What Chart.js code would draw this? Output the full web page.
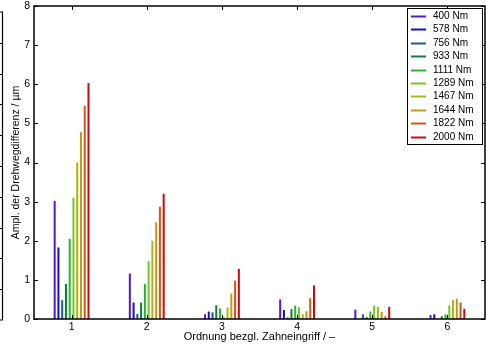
<!DOCTYPE html>
<html>
<head>
<meta charset="utf-8">
<script src="https://cdn.jsdelivr.net/npm/chart.js@4/dist/chart.umd.min.js"></script>
<style>
  html, body { margin: 0; padding: 0; background: #fff; overflow: hidden; }
  canvas { display: block; }
</style>
</head>
<body>
<canvas id="c" width="486" height="349"></canvas>
<script>
// Gear-mesh orders on the x axis
const orders = ['1', '2', '3', '4', '5', '6'];
// Load levels (one series each)
const torques = ['400 Nm', '578 Nm', '756 Nm', '933 Nm', '1111 Nm', '1289 Nm', '1467 Nm', '1644 Nm', '1822 Nm', '2000 Nm'];
// Amplitude of the transmission error per order, µm
const amp400  = [3.02, 1.16, 0.12, 0.50, 0.24, 0.10];
const amp578  = [1.83, 0.42, 0.19, 0.23, 0.00, 0.12];
const amp756  = [0.48, 0.13, 0.17, 0.04, 0.12, 0.00];
const amp933  = [0.90, 0.42, 0.35, 0.25, 0.05, 0.07];
const amp1111 = [2.05, 0.90, 0.27, 0.34, 0.19, 0.12];
const amp1289 = [3.10, 1.48, 0.05, 0.30, 0.34, 0.35];
const amp1467 = [4.00, 2.00, 0.30, 0.12, 0.31, 0.49];
const amp1644 = [4.78, 2.47, 0.65, 0.20, 0.18, 0.52];
const amp1822 = [5.45, 2.87, 0.98, 0.53, 0.07, 0.42];
const amp2000 = [6.03, 3.20, 1.28, 0.86, 0.31, 0.26];
const yTicks = [0, 1, 2, 3, 4, 5, 6, 7, 8];

const seriesValues = [amp400, amp578, amp756, amp933, amp1111, amp1289, amp1467, amp1644, amp1822, amp2000];
const seriesColors = ['#5a18c8', '#1414b8', '#1f5c86', '#0b7d3c', '#2cb42c', '#78c432', '#a6b80c', '#c8961e', '#c85c16', '#c80c0c'];

const FONT = '"Liberation Sans", Arial, Helvetica, sans-serif';

const datasets = torques.map((label, i) => ({
  label,
  data: seriesValues[i],
  backgroundColor: seriesColors[i],
  borderWidth: 0,
  categoryPercentage: 0.5,
  barPercentage: 0.54
}));

// Box around the plot area with inward tick marks on all four sides
const framePlugin = {
  id: 'frame',
  afterDatasetsDraw(chart) {
    const { ctx, chartArea: a, scales: { x, y } } = chart;
    ctx.save();
    ctx.strokeStyle = '#000';
    ctx.lineWidth = 1;
    const t = 4;
    ctx.beginPath();
    x.ticks.forEach((_, i) => {
      const px = Math.round(x.getPixelForTick(i)) + 0.5;
      ctx.moveTo(px, a.top); ctx.lineTo(px, a.top + t);
      ctx.moveTo(px, a.bottom); ctx.lineTo(px, a.bottom - t);
    });
    y.ticks.forEach(tk => {
      const py = Math.round(y.getPixelForValue(tk.value)) + 0.5;
      ctx.moveTo(a.left, py); ctx.lineTo(a.left + t, py);
      ctx.moveTo(a.right, py); ctx.lineTo(a.right - t, py);
    });
    ctx.stroke();
    ctx.lineWidth = 1.5;
    ctx.strokeRect(a.left, a.top, a.right - a.left, a.bottom - a.top);
    ctx.restore();
  }
};

// Legend box in the upper right corner of the plot
const boxLegendPlugin = {
  id: 'boxLegend',
  afterDraw(chart) {
    const { ctx, chartArea: a } = chart;
    const ds = chart.data.datasets;
    const w = 75, rowH = 13.4;
    const right = a.right - 3, top = a.top + 2;
    const left = right - w;
    const h = rowH * ds.length + 2;
    ctx.save();
    ctx.fillStyle = '#fff';
    ctx.fillRect(left, top, w, h);
    ctx.strokeStyle = '#000';
    ctx.lineWidth = 1;
    ctx.strokeRect(left + 0.5, top + 0.5, w, h);
    ctx.font = '10px ' + FONT;
    ctx.textBaseline = 'middle';
    ctx.textAlign = 'left';
    ds.forEach((d, i) => {
      const cy = Math.round(top + 8 + i * rowH) + 0.5;
      ctx.strokeStyle = d.backgroundColor;
      ctx.lineWidth = 2;
      ctx.beginPath();
      ctx.moveTo(left + 4, cy); ctx.lineTo(left + 19, cy);
      ctx.stroke();
      ctx.fillStyle = '#000';
      ctx.fillText(d.label, left + 26, cy);
    });
    ctx.restore();
  }
};

// Right edge of the neighbouring panel, cut off at the left border
const neighbourEdgePlugin = {
  id: 'neighbourEdge',
  afterDraw(chart) {
    const { ctx } = chart;
    const x0 = 2.5, top = 12, bottom = 320, n = 10;
    ctx.save();
    ctx.strokeStyle = '#000';
    ctx.lineWidth = 1.2;
    ctx.beginPath();
    ctx.moveTo(0, top); ctx.lineTo(x0, top); ctx.lineTo(x0, bottom); ctx.lineTo(0, bottom);
    for (let k = 1; k < n; k++) {
      const py = Math.round(top + k * (bottom - top) / n) + 0.5;
      ctx.moveTo(0, py); ctx.lineTo(x0, py);
    }
    ctx.stroke();
    ctx.restore();
  }
};

new Chart(document.getElementById('c'), {
  type: 'bar',
  data: { labels: orders, datasets },
  options: {
    responsive: false,
    animation: false,
    devicePixelRatio: 1,
    layout: { padding: { top: 6, right: 1, left: 0, bottom: 0 } },
    plugins: { legend: { display: false }, tooltip: { enabled: false } },
    scales: {
      x: {
        grid: { display: false, drawTicks: false },
        border: { display: false },
        ticks: { color: '#000', font: { family: FONT, size: 10.5 }, padding: 2 },
        title: { display: true, text: 'Ordnung bezgl. Zahneingriff / –', color: '#000', font: { family: FONT, size: 11 }, padding: { top: 0, bottom: 5 } },
        afterFit(s) { s.height = 30; s.paddingLeft = 0; s.paddingRight = 0; }
      },
      y: {
        min: 0, max: 8,
        afterBuildTicks(s) { s.ticks = yTicks.map(v => ({ value: v })); },
        grid: { display: false, drawTicks: false },
        border: { display: false },
        ticks: { color: '#000', font: { family: FONT, size: 10.5 }, padding: 4 },
        title: { display: true, text: 'Ampl. der Drehwegdifferenz / µm', color: '#000', font: { family: FONT, size: 10.5 }, padding: { top: 10, bottom: 0 } },
        afterFit(s) { s.width = 34; s.paddingTop = 0; s.paddingBottom = 0; }
      }
    }
  },
  plugins: [framePlugin, boxLegendPlugin, neighbourEdgePlugin]
});
</script>
</body>
</html>
